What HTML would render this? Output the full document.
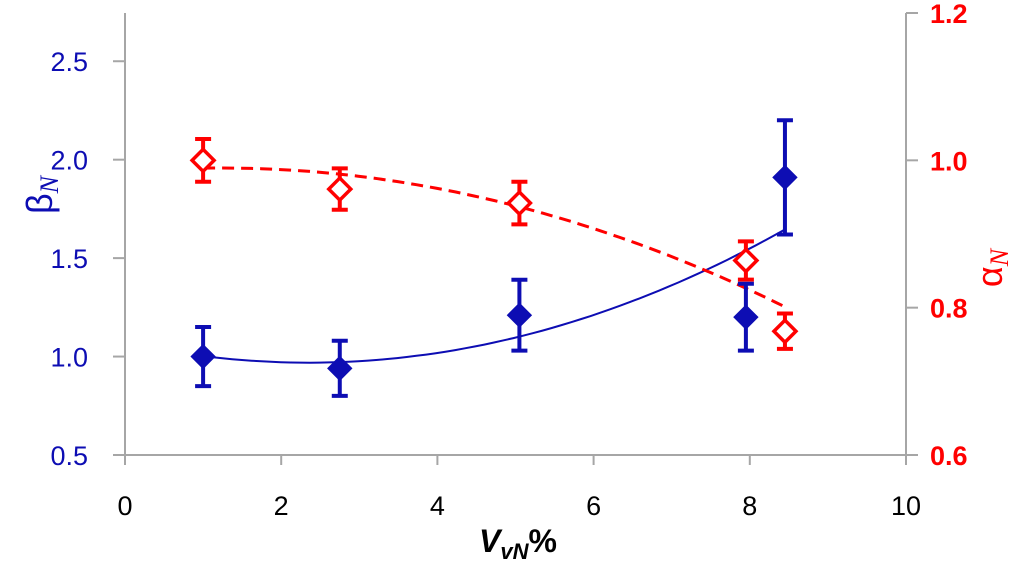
<!DOCTYPE html>
<html><head><meta charset="utf-8"><style>
html,body{margin:0;padding:0;background:#fff;width:1024px;height:564px;overflow:hidden}
svg{display:block;font-family:"Liberation Sans",sans-serif}
</style></head><body>
<svg id="chart" width="1024" height="564" viewBox="0 0 1024 564" xmlns="http://www.w3.org/2000/svg"></svg>
<script>
const xTicks=[0,2,4,6,8,10];
const leftTicks=[0.5,1.0,1.5,2.0,2.5];
const rightTicks=[0.6,0.8,1.0,1.2];
const betaX=[1.0,2.75,5.05,7.95,8.45];
const betaY=[1.00,0.94,1.21,1.20,1.91];
const betaErr=[0.15,0.14,0.18,0.17,0.29];
const alphaX=[1.0,2.75,5.05,7.95,8.45];
const alphaY=[1.000,0.961,0.942,0.864,0.768];
const alphaErr=[0.029,0.028,0.029,0.026,0.024];

const L=125,R=906,T=13,B=455;
const BLUE='#0d0db3',RED='#ff0000',GRAY='#a6a6a6';
const sx=v=>L+(v-0)/(10-0)*(R-L);
const syL=v=>B-(v-0.5)/(2.745-0.5)*(B-T);
const syR=v=>B-(v-0.6)/(1.2-0.6)*(B-T);
const svg=document.getElementById('chart');
const NS='http://www.w3.org/2000/svg';
function mk(tag,attrs,parent){const e=document.createElementNS(NS,tag);for(const k in attrs)e.setAttribute(k,attrs[k]);(parent||svg).appendChild(e);return e;}

function fit2(xs,ys){
  let S=[0,0,0,0,0],Q=[0,0,0];
  xs.forEach((x,i)=>{for(let k=0;k<5;k++)S[k]+=Math.pow(x,k);for(let k=0;k<3;k++)Q[k]+=ys[i]*Math.pow(x,k);});
  const M=[[S[0],S[1],S[2],Q[0]],[S[1],S[2],S[3],Q[1]],[S[2],S[3],S[4],Q[2]]];
  for(let i=0;i<3;i++){for(let j=i+1;j<3;j++){const f=M[j][i]/M[i][i];for(let k=i;k<4;k++)M[j][k]-=f*M[i][k];}}
  const c=[0,0,0];
  for(let i=2;i>=0;i--){let s=M[i][3];for(let k=i+1;k<3;k++)s-=M[i][k]*c[k];c[i]=s/M[i][i];}
  return x=>c[0]+c[1]*x+c[2]*x*x;
}

const ax=mk('g',{});


mk('line',{x1:L,y1:T,x2:L,y2:B,stroke:GRAY,'stroke-width':2},ax);
mk('line',{x1:R,y1:T,x2:R,y2:B,stroke:GRAY,'stroke-width':2},ax);
mk('line',{x1:L,y1:B,x2:R,y2:B,stroke:GRAY,'stroke-width':2},ax);
xTicks.forEach(v=>{
  mk('line',{x1:sx(v),y1:B,x2:sx(v),y2:B+10,stroke:GRAY,'stroke-width':2},ax);
  const t=mk('text',{x:sx(v),y:B+60,'text-anchor':'middle','font-size':27,fill:'#000'},ax);
  
  
  t.textContent=v;
});
leftTicks.forEach(v=>{
  mk('line',{x1:L-12,y1:syL(v),x2:L,y2:syL(v),stroke:GRAY,'stroke-width':2},ax);
  const t=mk('text',{x:L-37,y:syL(v)+10,'text-anchor':'end','font-size':27,fill:BLUE},ax);
  
  
  t.textContent=v.toFixed(1);
});
rightTicks.forEach(v=>{
  mk('line',{x1:R,y1:syR(v),x2:R+12,y2:syR(v),stroke:GRAY,'stroke-width':2},ax);
  const t=mk('text',{x:R+24,y:syR(v)+10,'text-anchor':'start','font-size':27,'font-weight':'bold',fill:RED},ax);
  
  
  t.textContent=v.toFixed(1);
});
const yl=mk('text',{x:0,y:0,transform:'translate(52,195) rotate(-90)','text-anchor':'middle','font-size':36,fill:BLUE});


yl.innerHTML='β<tspan font-family="Liberation Serif" font-style="italic" font-size="26" dy="6">N</tspan>';
const yr=mk('text',{x:0,y:0,transform:'translate(1002,268) rotate(-90)','text-anchor':'middle','font-size':36,fill:RED});


yr.innerHTML='α<tspan font-family="Liberation Serif" font-style="italic" font-size="26" dy="6">N</tspan>';
const xl=mk('text',{x:518,y:552,'text-anchor':'middle','font-size':32,'font-weight':'bold','font-style':'italic',fill:'#000'});


xl.innerHTML='V<tspan font-size="22" dy="7">vN</tspan><tspan dy="-7" font-style="normal">%</tspan>';

function trend(xs,ys,sy,attrs,name){
  const f=fit2(xs,ys);const x0=Math.min(...xs),x1=Math.max(...xs);let d='';
  for(let i=0;i<=60;i++){const x=x0+(x1-x0)*i/60;d+=(i?'L':'M')+sx(x).toFixed(1)+','+sy(f(x)).toFixed(1);}
  const p=mk('path',Object.assign({d:d,fill:'none'},attrs));
  
  
}
trend(betaX,betaY,syL,{stroke:BLUE,'stroke-width':2},'beta-trendline');
trend(alphaX,alphaY,syR,{stroke:RED,'stroke-width':3,'stroke-dasharray':'12,7'},'alpha-trendline');

function series(xs,ys,es,sy,color,filled,name){
  const g=mk('g',{});
  
  
  xs.forEach((x,i)=>{
    const cx=sx(x),cy=sy(ys[i]),y1=sy(ys[i]+es[i]),y2=sy(ys[i]-es[i]);
    mk('line',{x1:cx,y1:y1,x2:cx,y2:y2,stroke:color,'stroke-width':4},g);
    mk('line',{x1:cx-8,y1:y1,x2:cx+8,y2:y1,stroke:color,'stroke-width':4},g);
    mk('line',{x1:cx-8,y1:y2,x2:cx+8,y2:y2,stroke:color,'stroke-width':4},g);
    const s=filled?12:11;
    const p=mk('path',{d:`M${cx},${cy-s}L${cx+s},${cy}L${cx},${cy+s}L${cx-s},${cy}Z`,fill:filled?color:'#fff',stroke:color,'stroke-width':filled?1:3.5},g);
    
    
  });
}
series(alphaX,alphaY,alphaErr,syR,RED,false,'alpha-series');
series(betaX,betaY,betaErr,syL,BLUE,true,'beta-series');
</script>
</body></html>
